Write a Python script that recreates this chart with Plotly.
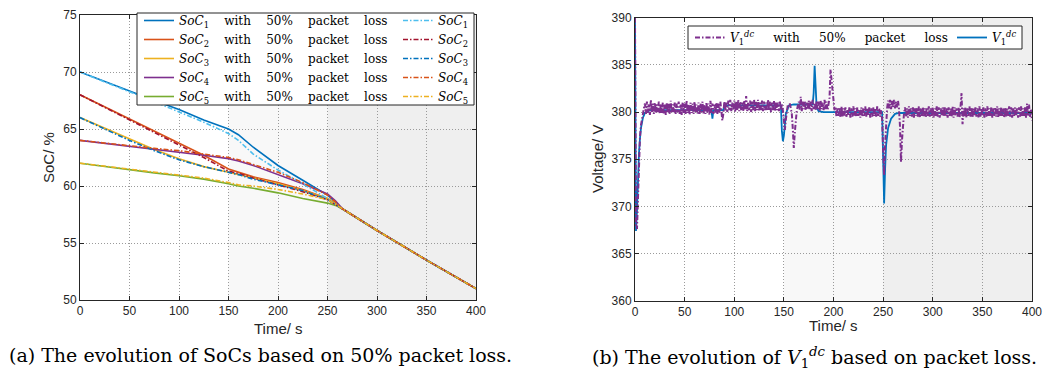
import plotly.graph_objects as go

W, H = 1051, 380

# ---------------- (a) state of charge of the five batteries (%) ----------------
t_soc = [0, 50, 75, 100, 125, 150, 160, 175, 200, 225, 250, 258, 265, 300, 350, 400]

soc1_with_loss = [70.0, 68.3, 67.5, 66.7, 65.8, 65.0, 64.5, 63.4, 61.8, 60.5, 59.2, 58.6, 58.0, 56.1, 53.5, 51.0]
soc2_with_loss = [68.0, 65.9, 64.85, 63.8, 62.7, 61.5, 61.2, 60.8, 60.3, 59.7, 58.9, 58.5, 58.0, 56.1, 53.5, 51.0]
soc3_with_loss = [66.0, 64.1, 63.2, 62.4, 61.7, 61.2, 61.0, 60.7, 60.2, 59.6, 58.9, 58.5, 58.0, 56.1, 53.5, 51.0]
soc4_with_loss = [64.0, 63.5, 63.25, 63.0, 62.7, 62.4, 62.2, 61.8, 61.0, 60.2, 59.3, 58.7, 58.0, 56.1, 53.5, 51.0]
soc5_with_loss = [62.0, 61.4, 61.15, 60.9, 60.6, 60.2, 60.0, 59.8, 59.4, 58.9, 58.5, 58.3, 58.0, 56.1, 53.5, 51.0]

soc1 = [70.0, 68.3, 67.4, 66.5, 65.6, 64.6, 64.0, 62.8, 61.4, 60.2, 58.9, 58.4, 58.0, 56.1, 53.5, 51.0]
soc2 = [68.0, 65.8, 64.7, 63.6, 62.5, 61.3, 61.1, 60.7, 60.1, 59.5, 58.8, 58.4, 58.0, 56.1, 53.5, 51.0]
soc3 = [66.0, 64.0, 63.1, 62.3, 61.7, 61.2, 61.0, 60.6, 60.1, 59.6, 58.8, 58.4, 58.0, 56.1, 53.5, 51.0]
soc4 = [64.0, 63.5, 63.3, 63.1, 62.8, 62.5, 62.3, 61.9, 61.2, 60.3, 59.2, 58.6, 58.0, 56.1, 53.5, 51.0]
soc5 = [62.0, 61.5, 61.25, 61.0, 60.7, 60.3, 60.1, 60.0, 59.7, 59.3, 58.8, 58.4, 58.0, 56.1, 53.5, 51.0]

soc_solid = [soc1_with_loss, soc2_with_loss, soc3_with_loss, soc4_with_loss, soc5_with_loss]
soc_dashed = [soc1, soc2, soc3, soc4, soc5]
solid_colors = ["#0072BD", "#D95319", "#EDB120", "#7E2F8E", "#77AC30"]
dashed_colors = ["#4DBEEE", "#A2142F", "#0072BD", "#D95319", "#EDB120"]

# ---------------- (b) DC voltage of converter 1 (V) ----------------
t_v1 = [0, 1, 2, 3, 4, 5, 6, 8, 10, 15, 77, 78, 79, 80, 89, 90, 147, 148, 149, 150,
        151, 152, 155, 160, 179, 180, 181, 182, 183, 185, 190, 249, 250, 251, 252, 253,
        255, 258, 262, 266, 270, 330, 400]
v1 = [390.0, 367.4, 369.5, 373.0, 375.6, 377.2, 378.3, 379.4, 379.9, 380.2, 380.2, 379.3,
      380.2, 380.2, 380.2, 380.7, 380.7, 378.0, 376.9, 377.5, 379.0, 379.8, 380.7, 380.8,
      380.8, 382.0, 384.9, 382.5, 380.5, 380.1, 380.0, 380.0, 374.0, 370.3, 374.0, 376.5,
      378.3, 379.3, 379.8, 379.9, 379.9, 379.9, 379.9]

# one sample per second, t = 0 ... 400 s
v1_loss = [
    390.0, 368.0, 367.6, 371.5, 375.0, 377.3, 378.6, 379.4, 379.9, 380.4,
    380.9, 379.8, 381.1, 379.9, 380.8, 379.7, 381.3, 379.9, 380.9, 379.8,
    381.0, 379.9, 380.8, 380.0, 381.1, 379.8, 380.9, 379.9, 381.0, 379.8,
    380.8, 379.7, 381.0, 379.9, 380.9, 379.8, 381.2, 379.9, 380.8, 380.0,
    381.0, 379.8, 380.9, 380.0, 381.1, 379.8, 380.8, 379.7, 381.0, 379.9,
    380.9, 379.8, 381.2, 379.9, 380.8, 379.7, 381.0, 379.9, 380.9, 379.8,
    381.1, 379.9, 380.8, 379.8, 381.0, 379.7, 380.9, 380.0, 381.1, 379.8,
    380.8, 379.8, 381.0, 379.9, 380.9, 379.7, 381.2, 379.9,
    380.9, 379.8, 380.8, 379.9, 381.0, 379.8, 380.9, 379.9, 381.1, 379.8,
    379.1, 379.8,
    381.1, 380.1, 381.0, 380.0, 381.2, 380.2, 381.3, 380.1, 381.0, 380.2,
    381.2, 380.0, 381.1, 380.2, 381.3, 380.1, 381.1, 380.2, 381.0, 380.1,
    381.2, 380.2, 381.7, 380.1, 381.0, 380.2, 381.2, 380.0, 381.1, 380.2,
    381.3, 380.1, 381.1, 380.2, 381.3, 380.1, 381.0, 380.2, 381.2, 380.1,
    381.1, 380.2, 381.0, 380.1, 381.3, 380.2, 381.1, 380.0, 381.0, 380.2,
    381.2, 380.1, 381.1, 380.2, 381.0, 380.1, 381.1, 380.2, 380.9,
    380.2, 379.0, 378.1, 379.2, 380.4, 380.8, 380.6, 380.9, 380.4, 379.8,
    378.2, 376.2, 377.8, 379.3, 380.2, 380.6,
    381.1, 380.2, 381.6, 380.1, 381.1, 380.3, 381.2, 380.2, 381.0, 380.3,
    381.2, 380.2, 381.1, 380.1, 381.3, 380.3, 381.0, 380.2, 381.2, 380.3,
    381.1, 380.1, 381.2, 380.3, 381.0, 380.2, 381.3, 380.3, 381.1, 380.2, 381.2,
    381.5, 384.5, 383.4, 381.6, 380.8, 380.2,
    380.5, 379.5, 380.4, 379.6, 380.5, 379.4, 380.6, 379.5, 380.4, 379.6,
    380.5, 379.5, 380.3, 379.6, 380.5, 379.4, 380.4, 379.5, 380.6, 379.6,
    380.4, 379.5, 380.5, 379.6, 380.3, 379.4, 380.5, 379.5, 380.4, 379.6,
    380.6, 379.5, 380.4, 379.6, 380.5, 379.4, 380.4, 379.5, 380.5, 379.6,
    380.4, 379.5, 380.6, 379.6, 380.4, 379.5, 380.2,
    379.2, 376.0, 373.3, 376.5, 379.0, 380.4,
    381.2, 380.4, 381.3, 380.3, 381.2, 380.5, 381.3, 380.4, 381.1, 380.5, 381.2, 380.3,
    378.5, 374.7, 377.0, 379.0, 379.8,
    380.5, 379.5, 380.4, 379.4, 380.6, 379.6, 380.4, 379.5, 380.5, 379.4,
    380.4, 379.6, 380.5, 379.5, 380.6, 379.4, 380.4, 379.6, 380.5, 379.5,
    380.4, 379.4, 380.5, 379.6, 380.6, 379.5, 380.4, 379.5, 380.5, 379.4,
    380.4, 379.6, 380.6, 379.5, 380.5, 379.4, 380.4, 379.6, 380.5, 379.5,
    380.6, 379.5, 380.4, 379.4, 380.5, 379.6, 380.4, 379.5, 380.6, 379.4,
    380.5, 379.6, 380.4, 379.5, 380.5, 379.4, 380.6,
    382.0, 378.7,
    380.4, 379.5, 380.5, 379.4, 380.4, 379.6, 380.6, 379.5, 380.5, 379.4,
    380.4, 379.6, 380.5, 379.5, 380.4, 379.4, 380.6, 379.5, 380.4, 379.6,
    380.5, 379.4, 380.4, 379.5, 380.6, 379.6, 380.4, 379.5, 380.5, 379.4,
    380.4, 379.6, 380.5, 379.5, 380.6, 379.4, 380.4, 379.5, 380.5, 379.6,
    380.4, 379.4, 380.5, 379.5, 380.4, 379.6, 380.6, 379.5, 380.5, 379.4,
    380.4, 379.5, 380.5, 379.6, 380.4, 379.4, 380.5, 379.5, 380.6, 379.6,
    380.4, 379.5, 380.5, 379.4, 380.9, 379.6, 380.8, 379.5, 380.3, 379.1,
]
t_v1_loss = list(range(len(v1_loss)))

x_ticks = [0, 50, 100, 150, 200, 250, 300, 350, 400]

DASHDOT = "5px,2px,1.5px,2px"
SERIF = "DejaVu Serif"
SANS = "Liberation Sans"
INK = "#262626"


def spaced(words, gap):
    return ("\u00a0" * gap).join(words)


def soc_label(i, suffix=""):
    return f"<i>SoC</i><sub>{i}</sub>" + suffix


V1DC = "<i>V</i><sub>1</sub><sup><i>dc</i></sup>"
LOSS_WORDS = ["", "with", "50%", "packet", "loss"]
SOC_LOSS = spaced(LOSS_WORDS, 4)
V_LOSS = spaced(LOSS_WORDS, 5)

fig = go.Figure()

for i, (vals, col) in enumerate(zip(soc_solid, solid_colors), start=1):
    fig.add_trace(go.Scatter(x=t_soc, y=vals, mode="lines", name=soc_label(i, SOC_LOSS),
                             line=dict(color=col, width=1.6), legend="legend",
                             xaxis="x", yaxis="y"))
for i, (vals, col) in enumerate(zip(soc_dashed, dashed_colors), start=1):
    fig.add_trace(go.Scatter(x=t_soc, y=vals, mode="lines", name=soc_label(i),
                             line=dict(color=col, width=1.6, dash=DASHDOT), legend="legend2",
                             xaxis="x", yaxis="y"))

fig.add_trace(go.Scatter(x=t_v1, y=v1, mode="lines", name=V1DC,
                         line=dict(color="#0072BD", width=1.8), legend="legend4",
                         xaxis="x2", yaxis="y2"))
fig.add_trace(go.Scatter(x=t_v1_loss, y=v1_loss, mode="lines", name=V1DC + V_LOSS,
                         line=dict(color="#7E2F8E", width=2, dash=DASHDOT), legend="legend3",
                         xaxis="x2", yaxis="y2"))

axis_style = dict(
    showline=True, linecolor=INK, linewidth=1, mirror="ticks",
    ticks="inside", ticklen=4, tickcolor=INK, automargin=False,
    showgrid=True, gridcolor="#9a9a9a", griddash="1px,2px", gridwidth=1,
    zeroline=False, tickfont=dict(family=SANS, size=12, color=INK),
)

shapes = []
for xr, yr in (("x", "y"), ("x2", "y2")):
    shapes.append(dict(type="rect", xref=xr, yref=f"{yr} domain", x0=150, x1=250, y0=0, y1=1,
                       fillcolor="#f8f8f8", line=dict(width=0), layer="below"))
    shapes.append(dict(type="rect", xref=xr, yref=f"{yr} domain", x0=250, x1=400, y0=0, y1=1,
                       fillcolor="#efefef", line=dict(width=0), layer="below"))

# legend frames
shapes.append(dict(type="rect", xref="paper", yref="paper",
                   x0=137 / W, x1=474 / W, y0=1 - 105 / H, y1=1 - 13 / H,
                   fillcolor="white", line=dict(color=INK, width=1), layer="above"))
shapes.append(dict(type="rect", xref="paper", yref="paper",
                   x0=688 / W, x1=1022 / W, y0=1 - 49 / H, y1=1 - 26 / H,
                   fillcolor="white", line=dict(color=INK, width=1), layer="above"))

legend_common = dict(bgcolor="rgba(0,0,0,0)", borderwidth=0, xanchor="left", yanchor="top",
                     font=dict(family=SERIF, size=12, color="black"), xref="paper", yref="paper")

title_font = dict(family=SANS, size=15, color=INK)
cap_font = dict(family=SERIF, size=19, color="black")

annotations = [
    dict(text="SoC/ %", x=49 / W, y=1 - 158 / H, textangle=-90, font=title_font),
    dict(text="Time/ s", x=278 / W, y=1 - 328 / H, font=title_font),
    dict(text="Voltage/ V", x=597 / W, y=1 - 159 / H, textangle=-90, font=title_font),
    dict(text="Time/ s", x=833 / W, y=1 - 325 / H, font=title_font),
    dict(text="(a) The evolution of SoCs based on 50% packet loss.",
         x=260 / W, y=1 - 355 / H, font=cap_font),
    dict(text=f"(b) The evolution of {V1DC} based on packet loss.",
         x=814 / W, y=1 - 357 / H, font=cap_font),
]
for a in annotations:
    a.update(xref="paper", yref="paper", showarrow=False, xanchor="center", yanchor="middle")

fig.update_layout(
    width=W, height=H, margin=dict(l=0, r=0, t=0, b=0, autoexpand=False),
    paper_bgcolor="white", plot_bgcolor="white", showlegend=True,
    xaxis=dict(domain=[80 / W, 476 / W], range=[0, 400], tickvals=x_ticks, anchor="y", **axis_style),
    yaxis=dict(domain=[80 / H, 365 / H], range=[50, 75], dtick=5, anchor="x", **axis_style),
    xaxis2=dict(domain=[635 / W, 1032 / W], range=[0, 400], tickvals=x_ticks, anchor="y2", **axis_style),
    yaxis2=dict(domain=[79.3 / H, 362.3 / H], range=[360, 390], dtick=5, anchor="x2", **axis_style),
    legend=dict(x=139 / W, y=1 - 6 / H, **legend_common),
    legend2=dict(x=398 / W, y=1 - 6 / H, **legend_common),
    legend3=dict(x=690 / W, y=1 - 23 / H, **legend_common),
    legend4=dict(x=952 / W, y=1 - 23 / H, **legend_common),
    shapes=shapes,
    annotations=annotations,
)

fig.write_html("out.html")
